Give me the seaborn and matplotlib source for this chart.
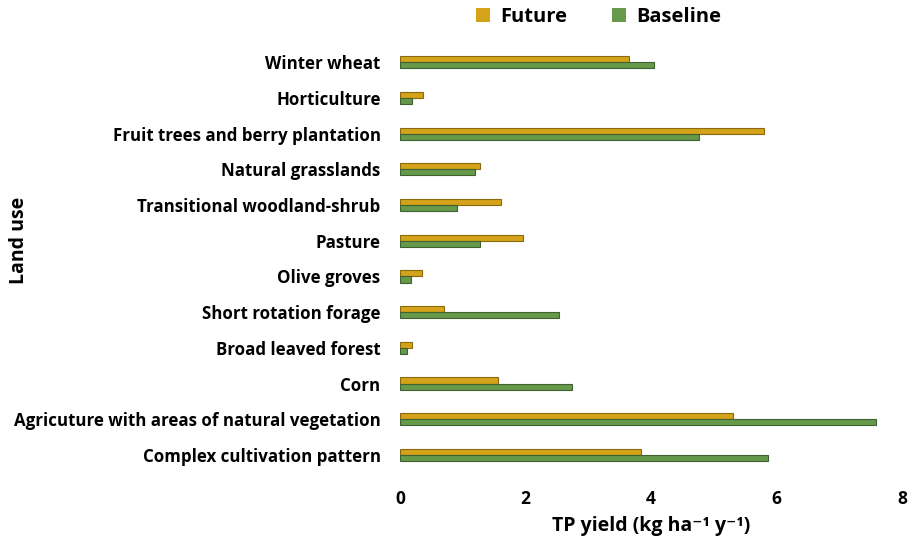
import matplotlib
matplotlib.use("Agg")
import matplotlib.pyplot as plt
import seaborn as sns
import pandas as pd
from matplotlib.patches import Patch

categories = ["Winter wheat", "Horticulture", "Fruit trees and berry plantation",
              "Natural grasslands", "Transitional woodland-shrub", "Pasture",
              "Olive groves", "Short rotation forage", "Broad leaved forest",
              "Corn", "Agricuture with areas of natural vegetation",
              "Complex cultivation pattern"]
future = [3.65, 0.37, 5.80, 1.28, 1.61, 1.96, 0.35, 0.70, 0.19, 1.56, 5.31, 3.84]
baseline = [4.05, 0.19, 4.76, 1.20, 0.91, 1.27, 0.18, 2.53, 0.11, 2.74, 7.59, 5.86]
series = ["Future", "Baseline"]
xticks = [0, 2, 4, 6, 8]

df = pd.DataFrame({
    "Land use": categories * 2,
    "value": future + baseline,
    "series": ["Future"] * len(categories) + ["Baseline"] * len(categories),
})

sns.set_theme(style="white")
plt.rcParams["font.family"] = ["Open Sans", "DejaVu Sans"]
plt.rcParams["text.color"] = "black"
plt.rcParams["axes.labelcolor"] = "black"
plt.rcParams["xtick.color"] = "black"
plt.rcParams["ytick.color"] = "black"

colors = {"Future": "#D4A31A", "Baseline": "#66994A"}
edges = {"Future": "#8A6A10", "Baseline": "#3F6230"}

fig = plt.figure(figsize=(9.14, 5.41), dpi=100)
ax = fig.add_axes([0.4376, 0.126, 0.5494, 0.792])
sns.barplot(data=df, y="Land use", x="value", hue="series", hue_order=series,
            order=categories, palette=colors, orient="h", width=0.34,
            ax=ax, legend=False, saturation=1)
for cont, s in zip(ax.containers, series):
    for b in cont:
        b.set_edgecolor(edges[s])
        b.set_linewidth(0.8)

ax.set_xlim(0, 8)
ax.set_ylim(len(categories) - 0.5, -0.5)
ax.set_xticks(xticks)
ax.set_xticklabels([str(t) for t in xticks], fontsize=12.5, fontweight="bold")
for lbl in ax.get_yticklabels():
    lbl.set_fontsize(12.2)
    lbl.set_fontweight("bold")
ax.tick_params(axis="y", length=0, pad=14, labelcolor="black")
ax.tick_params(axis="x", length=0, pad=12, labelcolor="black")
for sp in ax.spines.values():
    sp.set_visible(False)
ax.set_ylabel("Land use", fontsize=14, fontweight="bold", color="black")
ax.yaxis.set_label_coords(-0.738, 0.543)
ax.set_xlabel("TP yield (kg ha\u207b\u00b9 y\u207b\u00b9)", fontsize=14, fontweight="bold",
              labelpad=6, color="black")

handles = [Patch(facecolor=colors[s], edgecolor="none", label=s) for s in series]
leg = fig.legend(handles=handles, loc="center", bbox_to_anchor=(0.655, 0.968), ncol=2,
                 frameon=False, prop={"weight": "bold", "size": 14.5},
                 handlelength=0.7, handleheight=0.7, columnspacing=2.2, handletextpad=0.5)
for t in leg.get_texts():
    t.set_color("black")

fig.savefig("out.png", dpi=100)
